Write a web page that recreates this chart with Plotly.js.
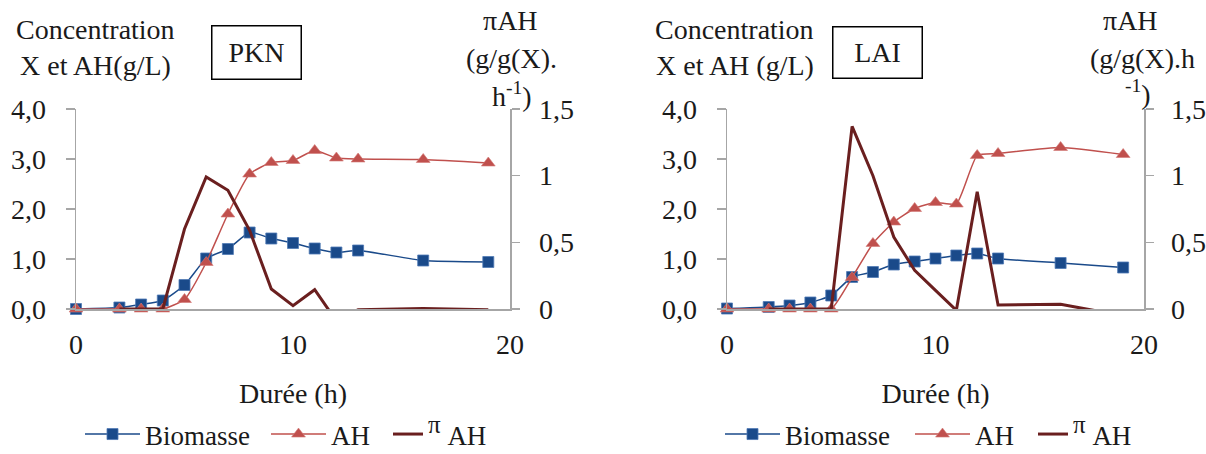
<!DOCTYPE html>
<html>
<head>
<meta charset="utf-8">
<script src="https://cdn.plot.ly/plotly-3.0.1.min.js"></script>
<style>
html,body{margin:0;padding:0;background:#fff;}
#chart{width:1206px;height:454px;}
</style>
</head>
<body>
<div id="chart"></div>
<script>
// ---- Data ----
var hours = [0, 2, 3, 4, 5, 6, 7, 8, 9, 10, 11, 12, 13, 16, 19];
var hoursPi = [2, 3, 4, 5, 6, 7, 8, 9, 10, 11, 12, 13, 16, 19];

var pknBiomasse = [0, 0.03, 0.09, 0.17, 0.48, 1.01, 1.2, 1.53, 1.41, 1.32, 1.21, 1.13, 1.17, 0.97, 0.94];
var pknAH = [0, 0, 0, 0, 0.19, 0.93, 1.9, 2.7, 2.93, 2.97, 3.17, 3.02, 3.0, 2.99, 2.92];
var pknPiAH = [0, 0, 0, 0.6, 0.99, 0.89, 0.59, 0.15, 0.025, 0.145, -0.09, -0.005, 0.003, -0.005];

var laiBiomasse = [0.01, 0.04, 0.07, 0.13, 0.27, 0.64, 0.74, 0.89, 0.95, 1.01, 1.07, 1.11, 1.01, 0.92, 0.83];
var laiAH = [0, 0, 0, 0, 0, 0.63, 1.31, 1.74, 2.01, 2.13, 2.1, 3.07, 3.11, 3.23, 3.09];
var laiPiAH = [0, 0, 0, 0, 1.37, 1.0, 0.54, 0.29, 0.14, -0.01, 0.88, 0.03, 0.035, -0.05];

var xTicks = [0, 10, 20];
var yLeftTicks = [0, 1, 2, 3, 4];
var yLeftText = ['0,0', '1,0', '2,0', '3,0', '4,0'];
var yRightTicks = [0, 0.5, 1, 1.5];
var yRightText = ['0', '0,5', '1', '1,5'];

var seriesNames = ['Biomasse', 'AH', '<sup><span style="font-size:25px">π</span></sup> AH'];

// ---- Styles ----
var W = 1206, H = 454;
var FONT = '"Liberation Serif", "Times New Roman", Times, serif';
var BLUE = '#1a4a8a', RED = '#c0504d', MAROON = '#6a1f1f', AXIS = '#a6a6a6', TXT = '#1a1a1a';
function px(x) { return x / W; }
function py(y) { return 1 - y / H; }

function chartTraces(bio, ah, pi, xa, ya, ya2, legs) {
  return [
    {type: 'scatter', mode: 'lines+markers', name: seriesNames[0], x: hours, y: bio,
     xaxis: xa, yaxis: ya, legend: legs[0], showlegend: true, cliponaxis: false,
     line: {color: BLUE, width: 1.5, shape: 'spline', smoothing: 0.5},
     marker: {symbol: 'square', size: 11, color: BLUE, line: {color: '#4f7ab5', width: 0.8}}},
    {type: 'scatter', mode: 'lines+markers', name: seriesNames[1], x: hours, y: ah,
     xaxis: xa, yaxis: ya, legend: legs[1], showlegend: true, cliponaxis: false,
     line: {color: RED, width: 1.5, shape: 'spline', smoothing: 0.5},
     marker: {symbol: 'triangle-up', size: 12, color: RED, line: {color: '#d37a77', width: 0.6}}},
    {type: 'scatter', mode: 'lines', name: seriesNames[2], x: hoursPi, y: pi,
     xaxis: xa, yaxis: ya2, legend: legs[2], showlegend: true,
     line: {color: MAROON, width: 3}}
  ];
}

var data = [].concat(
  chartTraces(pknBiomasse, pknAH, pknPiAH, 'x', 'y', 'y2', ['legend', 'legend2', 'legend3']),
  chartTraces(laiBiomasse, laiAH, laiPiAH, 'x2', 'y3', 'y4', ['legend4', 'legend5', 'legend6'])
);

var tickFont = {family: FONT, size: 28, color: TXT};
var yDomain = [py(309), py(109)];

function xAxis(domain, anchor) {
  return {
    domain: domain, anchor: anchor, range: [0, 20], tickvals: xTicks,
    showline: true, linecolor: AXIS, linewidth: 1.5, ticks: '', showgrid: false, zeroline: false,
    tickfont: tickFont, ticklabelstandoff: 10, automargin: false,
    title: {text: 'Durée (h)', font: {family: FONT, size: 28, color: TXT}, standoff: 24}
  };
}
function yLeft(anchor) {
  return {
    domain: yDomain, anchor: anchor, range: [0, 4], tickvals: yLeftTicks, ticktext: yLeftText,
    showline: true, linecolor: AXIS, linewidth: 1.5, ticks: 'outside', ticklen: 9, tickcolor: AXIS, tickwidth: 1.5,
    showgrid: false, zeroline: false, tickfont: tickFont, ticklabelstandoff: 14, automargin: false
  };
}
function yRight(anchor, over, standoff) {
  return {
    domain: yDomain, anchor: anchor, overlaying: over, side: 'right', range: [0, 1.5],
    tickvals: yRightTicks, ticktext: yRightText,
    showline: true, linecolor: AXIS, linewidth: 1.5, ticks: 'outside', ticklen: 8, tickcolor: AXIS, tickwidth: 1.5,
    showgrid: false, zeroline: false, tickfont: tickFont, ticklabelstandoff: standoff, automargin: false
  };
}

function ann(text, x, y, extra) {
  var a = {text: text, x: px(x), y: py(y), xref: 'paper', yref: 'paper', showarrow: false,
           xanchor: 'center', yanchor: 'middle', font: {family: FONT, size: 28, color: TXT}};
  for (var k in extra) a[k] = extra[k];
  return a;
}

function leg(x, w) {
  return {orientation: 'h', xanchor: 'left', yanchor: 'bottom', x: px(x), y: -0.011,
    bgcolor: 'rgba(0,0,0,0)', font: {family: FONT, size: 27, color: TXT},
    itemwidth: w, tracegroupgap: 0, itemclick: false, visible: true};
}

var layout = {
  width: W, height: H, margin: {l: 0, r: 0, t: 0, b: 0, autoexpand: false},
  paper_bgcolor: '#fff', plot_bgcolor: 'rgba(0,0,0,0)',
  font: {family: FONT, color: TXT},
  showlegend: true,
  xaxis: xAxis([px(76), px(510)], 'y'),
  yaxis: yLeft('x'),
  yaxis2: yRight('x', 'y', 14),
  xaxis2: xAxis([px(727), px(1144)], 'y3'),
  yaxis3: yLeft('x2'),
  yaxis4: yRight('x2', 'y3', 12),
  legend: leg(80, 55),
  legend2: leg(266, 55),
  legend3: leg(388, 30),
  legend4: leg(720, 55),
  legend5: leg(910, 55),
  legend6: leg(1033, 30),
  annotations: [
    ann('Concentration', 95, 30),
    ann('X et AH(g/L)', 95, 65),
    ann('PKN', 256, 52, {width: 86, height: 50, bordercolor: '#000', borderwidth: 1.5, borderpad: 1}),
    ann('πAH', 510, 20),
    ann('(g/g(X).', 511, 58),
    ann('h<sup>-1</sup>)', 512, 95),
    ann('Concentration', 735, 30),
    ann('X et AH (g/L)', 735, 65),
    ann('LAI', 877, 52, {width: 86, height: 48, bordercolor: '#000', borderwidth: 1.5, borderpad: 1}),
    ann('πAH', 1130, 20),
    ann('(g/g(X).h', 1142, 58),
    ann('<sup>-1</sup>)', 1138, 92)
  ]
};

Plotly.newPlot('chart', data, layout, {staticPlot: true});
</script>
</body>
</html>
